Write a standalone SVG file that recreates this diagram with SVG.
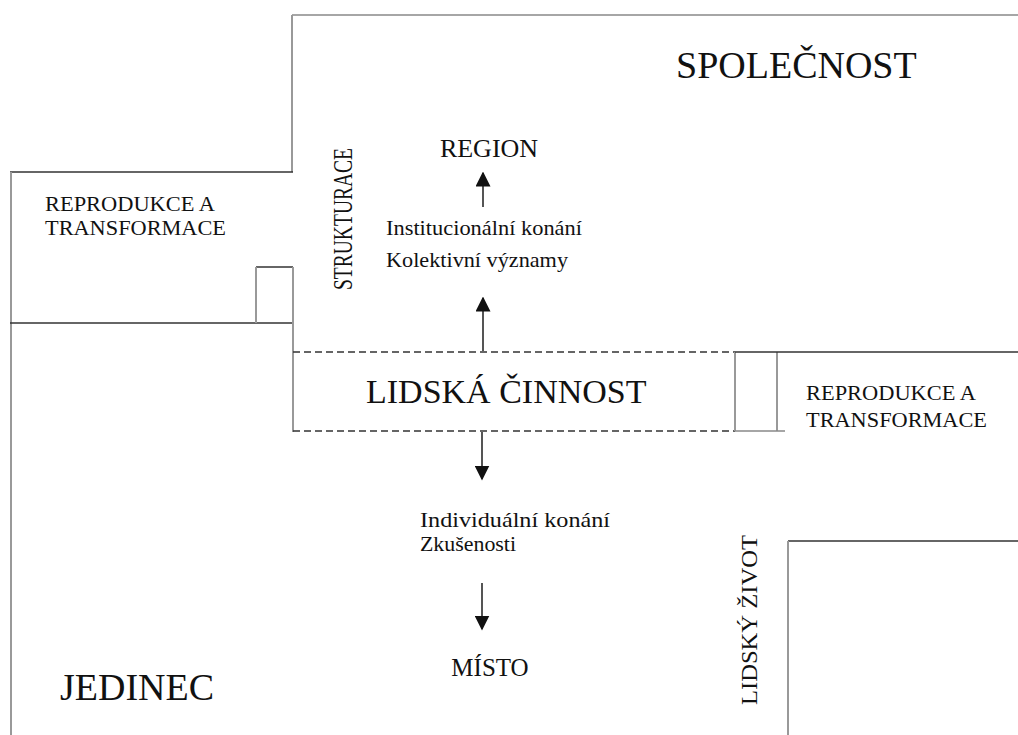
<svg xmlns="http://www.w3.org/2000/svg" width="1018" height="735" viewBox="0 0 1018 735" font-family="Liberation Serif, DejaVu Serif, serif">
<style>
.t{fill:#111}
.h{stroke:#333;stroke-width:1.6;fill:none}
.v{stroke:#999;stroke-width:2;fill:none}
.d{stroke:#333;stroke-width:1.6;stroke-dasharray:7 4;fill:none}
.a{stroke:#555;stroke-width:2;fill:none}
</style>
<defs>
<marker id="ahb" viewBox="0 0 10 10" refX="9" refY="5" markerWidth="15" markerHeight="15" markerUnits="userSpaceOnUse" orient="auto">
<path d="M0,0 L10,5 L0,10 z" fill="#111"/>
</marker>
</defs>
<rect width="1018" height="735" fill="#fff"/>
<g id="spolecnost">
<line class="h" x1="292" y1="15" x2="1018" y2="15" style="stroke:#888"/>
<line class="v" x1="292" y1="15" x2="292" y2="172"/>
<text class="t" x="676" y="78" font-size="38">SPOLEČNOST</text>
</g>
<g id="reprodukce-left">
<line class="h" x1="10" y1="172" x2="293" y2="172"/>
<line class="v" x1="11" y1="172" x2="11" y2="735"/>
<line class="h" x1="10" y1="323" x2="293" y2="323"/>
<text class="t" x="45" y="211" font-size="21" textLength="170" lengthAdjust="spacingAndGlyphs">REPRODUKCE A</text>
<text class="t" x="45" y="235" font-size="21" textLength="181" lengthAdjust="spacingAndGlyphs">TRANSFORMACE</text>
</g>
<g id="small-box-left">
<line class="h" x1="256" y1="267" x2="293" y2="267"/>
<line class="v" x1="256" y1="267" x2="256" y2="323"/>
<line class="v" x1="293" y1="267" x2="293" y2="432"/>
</g>
<g id="strukturace">
<text class="t" transform="translate(352,290) rotate(-90)" font-size="27" textLength="142" lengthAdjust="spacingAndGlyphs">STRUKTURACE</text>
</g>
<g id="region">
<text class="t" x="489" y="157" font-size="26" text-anchor="middle">REGION</text>
<text class="t" x="386" y="235" font-size="21" textLength="196" lengthAdjust="spacingAndGlyphs">Institucionální konání</text>
<text class="t" x="386" y="267" font-size="21" textLength="182" lengthAdjust="spacingAndGlyphs">Kolektivní významy</text>
</g>
<g id="lidska-cinnost">
<line class="d" x1="293" y1="352" x2="735" y2="352"/>
<line class="d" x1="293" y1="431" x2="735" y2="431"/>
<text class="t" x="366" y="403" font-size="34">LIDSKÁ ČINNOST</text>
</g>
<g id="reprodukce-right">
<line class="v" x1="735" y1="352" x2="735" y2="431"/>
<line class="v" x1="777" y1="352" x2="777" y2="431"/>
<line class="h" x1="735" y1="352" x2="1018" y2="352"/>
<line class="h" x1="735" y1="431" x2="785" y2="431" style="stroke:#888"/>
<text class="t" x="806" y="400" font-size="21" textLength="170" lengthAdjust="spacingAndGlyphs">REPRODUKCE A</text>
<text class="t" x="806" y="427" font-size="21" textLength="181" lengthAdjust="spacingAndGlyphs">TRANSFORMACE</text>
</g>
<g id="individualni">
<text class="t" x="420" y="527" font-size="21" textLength="190" lengthAdjust="spacingAndGlyphs">Individuální konání</text>
<text class="t" x="420" y="551" font-size="21" textLength="96" lengthAdjust="spacingAndGlyphs">Zkušenosti</text>
</g>
<g id="misto">
<text class="t" x="490" y="676" font-size="25" text-anchor="middle">MÍSTO</text>
</g>
<g id="jedinec">
<text class="t" x="60" y="700" font-size="38">JEDINEC</text>
</g>
<g id="lidsky-zivot">
<line class="h" x1="788" y1="541" x2="1018" y2="541"/>
<line class="v" x1="788" y1="541" x2="788" y2="735"/>
<text class="t" transform="translate(757,705) rotate(-90)" font-size="24" textLength="170" lengthAdjust="spacingAndGlyphs">LIDSKÝ ŽIVOT</text>
</g>
<g id="connectors">
<line class="a" x1="483" y1="207" x2="483" y2="173" marker-end="url(#ahb)"/>
<line class="a" x1="483" y1="351" x2="483" y2="298" marker-end="url(#ahb)"/>
<line class="a" x1="482" y1="432" x2="482" y2="479" marker-end="url(#ahb)"/>
<line class="a" x1="482" y1="583" x2="482" y2="629" marker-end="url(#ahb)"/>
</g>
</svg>
